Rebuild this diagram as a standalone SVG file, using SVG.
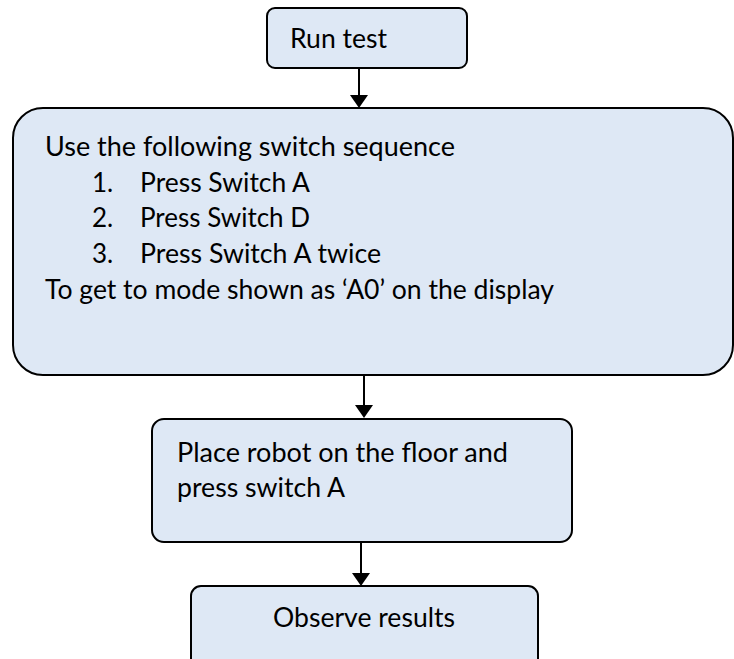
<svg xmlns="http://www.w3.org/2000/svg" width="734" height="659" viewBox="0 0 734 659">
<style>
.box{fill:#dee8f5;stroke:#000;stroke-width:2}
.t{font-family:Lato,"Liberation Sans",sans-serif;font-size:26px;fill:#000}
.c{stroke:#000;stroke-width:2;fill:none}
.ah{fill:#000}
</style>
<rect width="734" height="659" fill="#fff"/>
<g id="connectors">
<line class="c" x1="359" y1="68" x2="359" y2="96"/>
<polygon class="ah" points="350,95 368,95 359,108"/>
<line class="c" x1="364" y1="375" x2="364" y2="406"/>
<polygon class="ah" points="355,405 373,405 364,418"/>
<line class="c" x1="361" y1="542" x2="361" y2="574"/>
<polygon class="ah" points="352,573 370,573 361,586"/>
</g>
<g id="node-run-test">
<rect class="box" x="267" y="8" width="200" height="60" rx="8"/>
<text class="t" x="290" y="48" textLength="97" lengthAdjust="spacingAndGlyphs">Run test</text>
</g>
<g id="node-sequence">
<rect class="box" x="13" y="108" width="720" height="267" rx="30"/>
<text class="t" x="45" y="156" textLength="410" lengthAdjust="spacingAndGlyphs">Use the following switch sequence</text>
<text class="t" x="92" y="192">1.</text>
<text class="t" x="140" y="192" textLength="170" lengthAdjust="spacingAndGlyphs">Press Switch A</text>
<text class="t" x="92" y="227">2.</text>
<text class="t" x="140" y="227" textLength="170" lengthAdjust="spacingAndGlyphs">Press Switch D</text>
<text class="t" x="92" y="263">3.</text>
<text class="t" x="140" y="263" textLength="241" lengthAdjust="spacingAndGlyphs">Press Switch A twice</text>
<text class="t" x="45" y="299" textLength="509" lengthAdjust="spacingAndGlyphs">To get to mode shown as ‘A0’ on the display</text>
</g>
<g id="node-place-robot">
<rect class="box" x="152" y="419" width="420" height="123" rx="12"/>
<text class="t" x="177" y="462" textLength="331" lengthAdjust="spacingAndGlyphs">Place robot on the floor and</text>
<text class="t" x="177" y="497" textLength="168" lengthAdjust="spacingAndGlyphs">press switch A</text>
</g>
<g id="node-observe">
<rect class="box" x="191" y="586" width="347" height="90" rx="10"/>
<text class="t" x="273" y="627" textLength="182" lengthAdjust="spacingAndGlyphs">Observe results</text>
</g>
</svg>
